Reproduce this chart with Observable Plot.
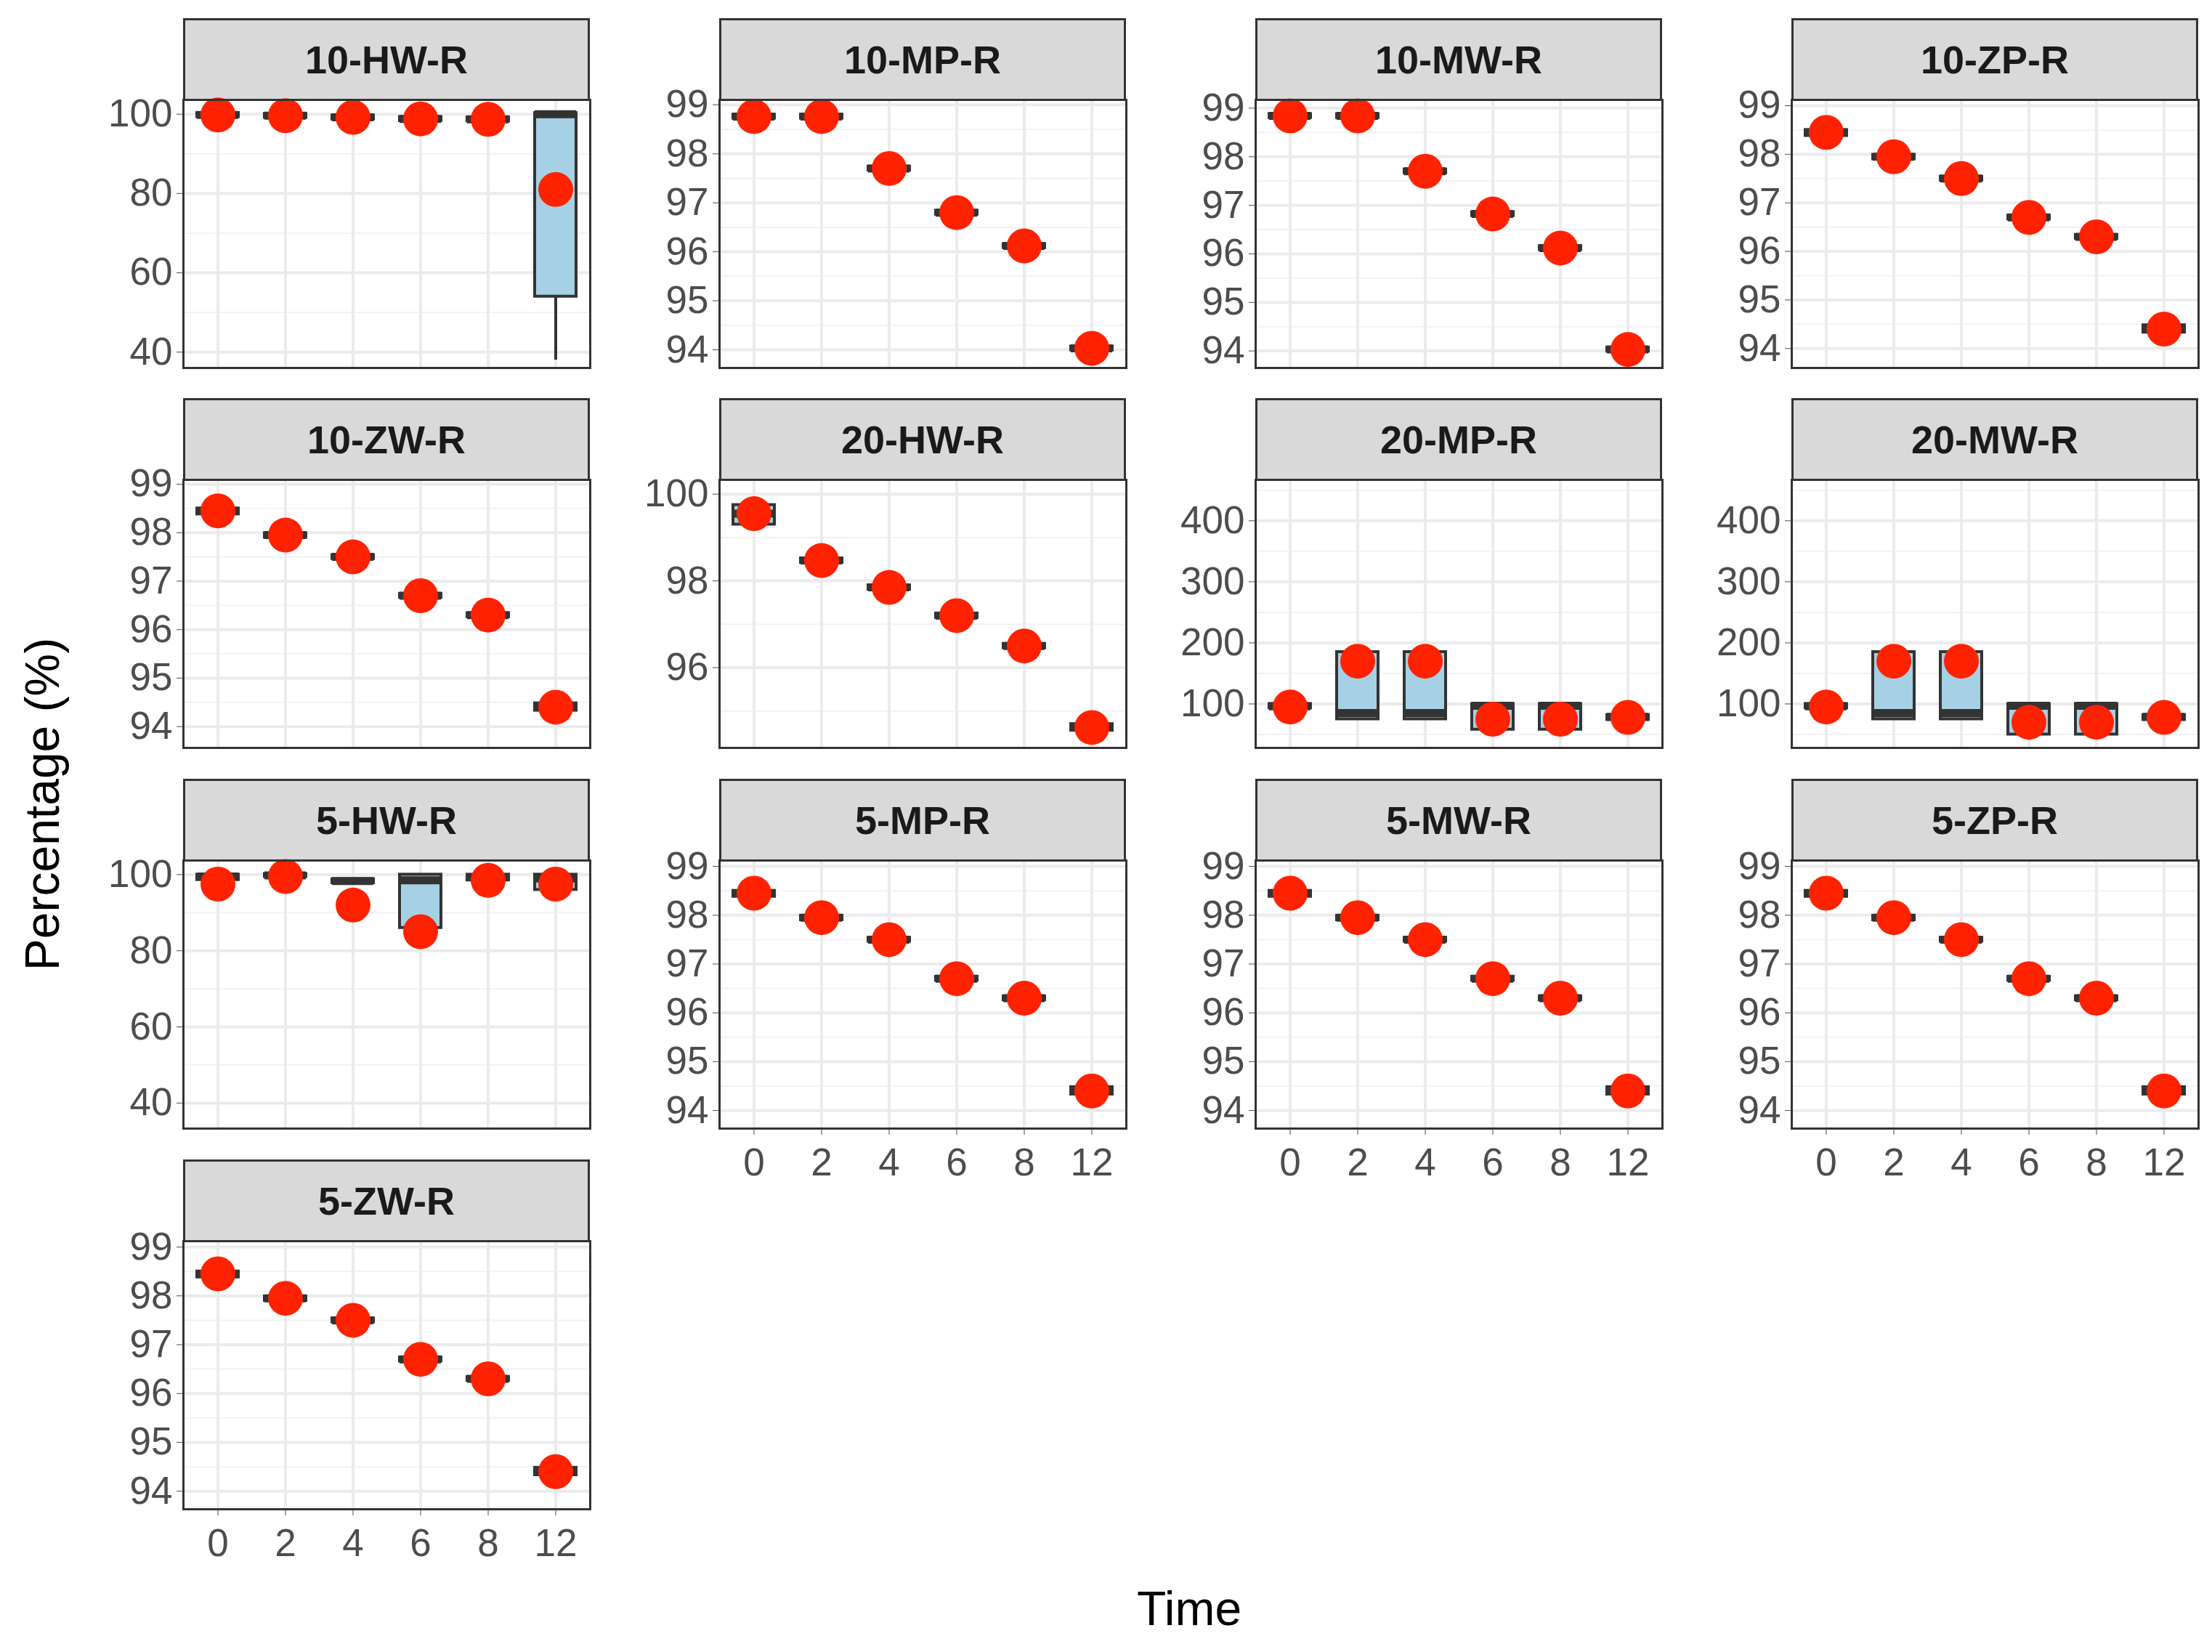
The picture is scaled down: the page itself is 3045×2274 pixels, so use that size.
<!DOCTYPE html>
<html><head><meta charset="utf-8">
<script src="https://cdn.jsdelivr.net/npm/d3@7"></script>
<script src="https://cdn.jsdelivr.net/npm/@observablehq/plot@0.6"></script>
<style>
body{margin:0;background:#fff;font-family:"Liberation Sans",Arial,sans-serif;}
#wrap{position:relative;width:3045px;height:2274px;}
.strip{position:absolute;background:#D9D9D9;border:3px solid #333;box-sizing:border-box;font-weight:bold;font-size:54px;color:#1A1A1A;text-align:center;}
.panel{position:absolute;overflow:visible;}
</style></head><body><div id="wrap"></div>
<script>
const times = ["0","2","4","6","8","12"];
const panels = ["10-HW-R","10-MP-R","10-MW-R","10-ZP-R","10-ZW-R","20-HW-R","20-MP-R","20-MW-R","5-HW-R","5-MP-R","5-MW-R","5-ZP-R","5-ZW-R"];
// per-panel: mean, median, q1, q3, whisker low, whisker high
const hw10Mean=[99.8,99.6,99.2,98.8,98.7,81], hw10Med=[99.8,99.6,99.2,98.8,98.7,100], hw10Q1=[99.3,99.1,98.7,98.3,98.2,54], hw10Q3=[100.3,100.1,99.7,99.3,99.2,100.3], hw10Lo=[99.3,99.1,98.7,98.3,98.2,38], hw10Hi=[100.3,100.1,99.7,99.3,99.2,100.3];
const mp10Mean=[98.76,98.76,97.7,96.8,96.12,94.03], mp10Q1=[98.72,98.72,97.66,96.76,96.08,93.99], mp10Q3=[98.8,98.8,97.74,96.84,96.16,94.07];
const mw10Mean=[98.84,98.84,97.7,96.82,96.12,94.03], mw10Q1=[98.8,98.8,97.66,96.78,96.08,93.99], mw10Q3=[98.88,98.88,97.74,96.86,96.16,94.07];
const zMean=[98.45,97.95,97.5,96.7,96.3,94.4], zQ1=[98.38,97.9,97.46,96.66,96.26,94.33], zQ3=[98.5,97.99,97.54,96.74,96.34,94.48];
const hw20Mean=[99.55,98.47,97.85,97.2,96.5,94.62], hw20Q1=[99.3,98.42,97.8,97.15,96.45,94.55], hw20Q3=[99.75,98.52,97.9,97.25,96.55,94.7];
const mp20Mean=[95,170,170,75,75,78], mp20Med=[96,85,85,97,97,79], mp20Q1=[93,75,75,58,58,74], mp20Q3=[100,185,185,100,100,82];
const mw20Mean=[95,170,170,70,70,78], mw20Med=[96,85,85,97,97,79], mw20Q1=[93,75,75,50,50,74], mw20Q3=[100,185,185,100,100,82];
const hw5Mean=[97.5,99.5,92,85,98.5,97.5], hw5Med=[99.5,99.8,98.3,98.5,99.3,99], hw5Q1=[98.6,99.4,97.8,86,98.5,96], hw5Q3=[100,100.2,98.8,100,100,100];
const yDomains=[[36,103.6],[93.63,99.1],[93.65,99.17],[93.6,99.12],[93.56,99.09],[94.15,100.33],[28,467],[28,467],[33.3,103.7],[93.63,99.12],[93.63,99.12],[93.63,99.12],[93.63,99.12]];
const yMajor=[[40,60,80,100],[94,95,96,97,98,99],[94,95,96,97,98,99],[94,95,96,97,98,99],[94,95,96,97,98,99],[96,98,100],[100,200,300,400],[100,200,300,400],[40,60,80,100],[94,95,96,97,98,99],[94,95,96,97,98,99],[94,95,96,97,98,99],[94,95,96,97,98,99]];
const yMinor=[[50,70,90],[94.5,95.5,96.5,97.5,98.5],[94.5,95.5,96.5,97.5,98.5],[94.5,95.5,96.5,97.5,98.5],[94.5,95.5,96.5,97.5,98.5],[95,97,99],[50,150,250,350,450],[50,150,250,350,450],[40,50,70,90],[94.5,95.5,96.5,97.5,98.5],[94.5,95.5,96.5,97.5,98.5],[94.5,95.5,96.5,97.5,98.5],[94.5,95.5,96.5,97.5,98.5]];
function stats(mean,med,q1,q3,lo,hi){return times.map((t,i)=>({t,mean:mean[i],med:med[i],q1:q1[i],q3:q3[i],lo:(lo||q1)[i],hi:(hi||q3)[i]}));}
const data=[
 stats(hw10Mean,hw10Med,hw10Q1,hw10Q3,hw10Lo,hw10Hi),
 stats(mp10Mean,mp10Mean,mp10Q1,mp10Q3),
 stats(mw10Mean,mw10Mean,mw10Q1,mw10Q3),
 stats(zMean,zMean,zQ1,zQ3),
 stats(zMean,zMean,zQ1,zQ3),
 stats(hw20Mean,hw20Mean,hw20Q1,hw20Q3),
 stats(mp20Mean,mp20Med,mp20Q1,mp20Q3),
 stats(mw20Mean,mw20Med,mw20Q1,mw20Q3),
 stats(hw5Mean,hw5Med,hw5Q1,hw5Q3),
 stats(zMean,zMean,zQ1,zQ3),
 stats(zMean,zMean,zQ1,zQ3),
 stats(zMean,zMean,zQ1,zQ3),
 stats(zMean,zMean,zQ1,zQ3)];
const colLeft=[252,990,1728,2466], rowTop=[25,548,1072,1596];
const W=560, stripH=112, H=369, ML=150, MB=100;
const wrap=document.getElementById("wrap");
panels.forEach((name,i)=>{
  const r=Math.floor(i/4), c=i%4;
  const showX = (r===2 && c>0) || r===3;
  const s=document.createElement("div"); s.className="strip";
  Object.assign(s.style,{left:colLeft[c]+"px",top:rowTop[r]+"px",width:W+"px",height:(stripH+2)+"px",lineHeight:(stripH-4)+"px"});
  s.textContent=name; wrap.appendChild(s);
  const d=data[i];
  const inset=18;
  const svg=Plot.plot({
    width:W+ML, height:H+MB, marginLeft:ML, marginRight:0, marginTop:0, marginBottom:MB,
    style:{fontSize:"53px",fontFamily:"Liberation Sans, Arial, sans-serif",color:"#4D4D4D",background:"transparent",overflow:"visible"},
    x:{type:"band",domain:times,padding:0,axis:showX?"bottom":null,tickSize:9,tickPadding:18,label:null},
    y:{domain:yDomains[i],ticks:yMajor[i],tickFormat:"d",tickSize:9,tickPadding:6,label:null},
    marks:[
      Plot.ruleY(yMinor[i],{stroke:"#F2F2F2",strokeWidth:2}),
      Plot.ruleY(yMajor[i],{stroke:"#EBEBEB",strokeWidth:4}),
      Plot.ruleX(times,{x:d=>d,stroke:"#EBEBEB",strokeWidth:4}),
      Plot.ruleX(d,{x:"t",y1:"lo",y2:"q1",stroke:"#333",strokeWidth:4}),
      Plot.ruleX(d,{x:"t",y1:"q3",y2:"hi",stroke:"#333",strokeWidth:4}),
      Plot.barY(d,{x:"t",y1:"q1",y2:"q3",fill:"#A6D0E4",stroke:"#333",strokeWidth:4,insetLeft:inset,insetRight:inset}),
      Plot.tickY(d,{x:"t",y:"med",stroke:"#333",strokeWidth:11,insetLeft:inset,insetRight:inset}),
      Plot.dot(d,{x:"t",y:"mean",r:24,fill:"#FF2200",stroke:null}),
      Plot.frame({stroke:"#333",strokeWidth:3})
    ]
  });
  svg.classList.add("panel");
  Object.assign(svg.style,{left:(colLeft[c]-ML)+"px",top:(rowTop[r]+stripH)+"px"});
  wrap.appendChild(svg);
});
const yl=document.createElement("div");
Object.assign(yl.style,{position:"absolute",left:"58px",top:"1107px",transform:"translate(-50%,-50%) rotate(-90deg)",fontSize:"66px",color:"#000",whiteSpace:"nowrap"});
yl.textContent="Percentage (%)"; wrap.appendChild(yl);
const xl=document.createElement("div");
Object.assign(xl.style,{position:"absolute",left:"1637px",top:"2214px",transform:"translate(-50%,-50%)",fontSize:"66px",color:"#000"});
xl.textContent="Time"; wrap.appendChild(xl);
</script></body></html>
